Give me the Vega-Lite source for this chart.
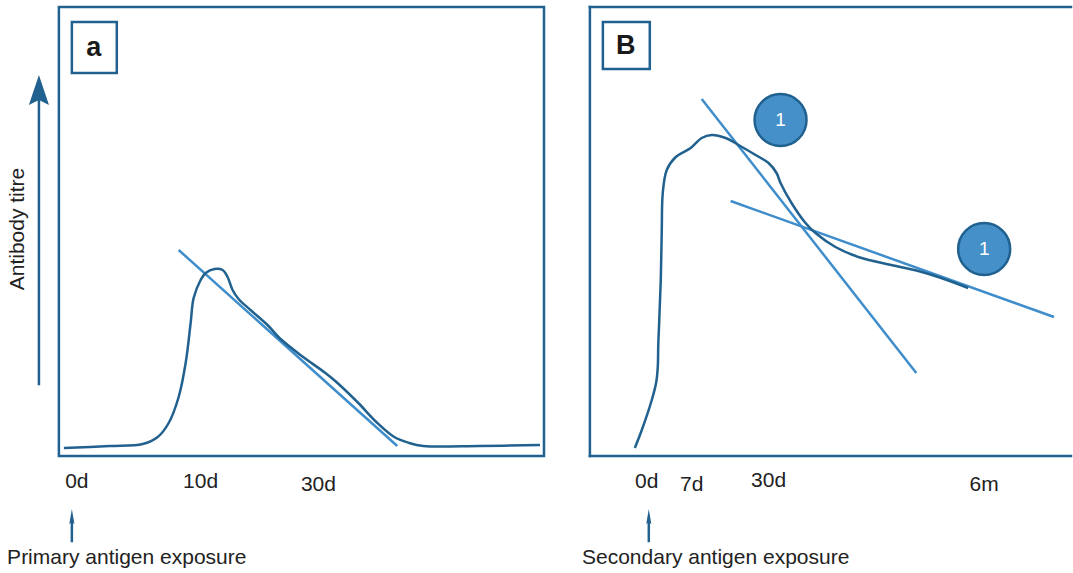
{
  "$schema": "https://vega.github.io/schema/vega-lite/v6.json",
  "width": 1073,
  "height": 573,
  "padding": 0,
  "autosize": {"type": "fit", "contains": "padding"},
  "background": "white",
  "config": {"view": {"stroke": null}},
  "datasets": {
    "curves": [
      {"s": "a", "o": 1, "x": 64, "y": 448},
      {"s": "a", "o": 2, "x": 110, "y": 446},
      {"s": "a", "o": 3, "x": 143, "y": 444},
      {"s": "a", "o": 4, "x": 158, "y": 437},
      {"s": "a", "o": 5, "x": 169, "y": 423},
      {"s": "a", "o": 6, "x": 179, "y": 397},
      {"s": "a", "o": 7, "x": 186, "y": 363},
      {"s": "a", "o": 8, "x": 191, "y": 323},
      {"s": "a", "o": 9, "x": 194, "y": 298},
      {"s": "a", "o": 10, "x": 201, "y": 280},
      {"s": "a", "o": 11, "x": 206, "y": 273},
      {"s": "a", "o": 12, "x": 215, "y": 269},
      {"s": "a", "o": 13, "x": 223, "y": 270},
      {"s": "a", "o": 14, "x": 228, "y": 277},
      {"s": "a", "o": 15, "x": 233, "y": 290},
      {"s": "a", "o": 16, "x": 239, "y": 299},
      {"s": "a", "o": 17, "x": 251, "y": 310},
      {"s": "a", "o": 18, "x": 269, "y": 326},
      {"s": "a", "o": 19, "x": 280, "y": 338},
      {"s": "a", "o": 20, "x": 301, "y": 355},
      {"s": "a", "o": 21, "x": 326, "y": 373},
      {"s": "a", "o": 22, "x": 337, "y": 382},
      {"s": "a", "o": 23, "x": 359, "y": 403},
      {"s": "a", "o": 24, "x": 377, "y": 422},
      {"s": "a", "o": 25, "x": 395, "y": 437},
      {"s": "a", "o": 26, "x": 410, "y": 443},
      {"s": "a", "o": 27, "x": 424, "y": 446},
      {"s": "a", "o": 28, "x": 480, "y": 446},
      {"s": "a", "o": 29, "x": 541, "y": 445},
      {"s": "b", "o": 1, "x": 636, "y": 448},
      {"s": "b", "o": 2, "x": 643, "y": 430},
      {"s": "b", "o": 3, "x": 653, "y": 400},
      {"s": "b", "o": 4, "x": 657.5, "y": 382},
      {"s": "b", "o": 5, "x": 659, "y": 367},
      {"s": "b", "o": 6, "x": 659.5, "y": 345},
      {"s": "b", "o": 7, "x": 660.5, "y": 320},
      {"s": "b", "o": 8, "x": 662, "y": 280},
      {"s": "b", "o": 9, "x": 663, "y": 230},
      {"s": "b", "o": 10, "x": 664, "y": 193},
      {"s": "b", "o": 11, "x": 668, "y": 170},
      {"s": "b", "o": 12, "x": 677, "y": 157},
      {"s": "b", "o": 13, "x": 692, "y": 148},
      {"s": "b", "o": 14, "x": 703, "y": 138},
      {"s": "b", "o": 15, "x": 713, "y": 135},
      {"s": "b", "o": 16, "x": 727, "y": 138},
      {"s": "b", "o": 17, "x": 740, "y": 145},
      {"s": "b", "o": 18, "x": 757, "y": 155},
      {"s": "b", "o": 19, "x": 770, "y": 163},
      {"s": "b", "o": 20, "x": 778, "y": 173},
      {"s": "b", "o": 21, "x": 782, "y": 183},
      {"s": "b", "o": 22, "x": 793, "y": 203},
      {"s": "b", "o": 23, "x": 807, "y": 223},
      {"s": "b", "o": 24, "x": 817, "y": 233},
      {"s": "b", "o": 25, "x": 837, "y": 247},
      {"s": "b", "o": 26, "x": 860, "y": 257},
      {"s": "b", "o": 27, "x": 893, "y": 265},
      {"s": "b", "o": 28, "x": 920, "y": 271},
      {"s": "b", "o": 29, "x": 943, "y": 278},
      {"s": "b", "o": 30, "x": 970, "y": 288}
    ],
    "tangents": [
      {"s": "a", "o": 1, "x": 179, "y": 250},
      {"s": "a", "o": 2, "x": 398, "y": 446},
      {"s": "b1", "o": 1, "x": 703, "y": 99},
      {"s": "b1", "o": 2, "x": 918, "y": 373},
      {"s": "b2", "o": 1, "x": 732, "y": 201},
      {"s": "b2", "o": 2, "x": 1056, "y": 317}
    ],
    "boxes": [
      {"x": 59, "x2": 545, "y": 7, "y2": 456},
      {"x": 72, "x2": 117, "y": 22, "y2": 73},
      {"x": 604, "x2": 651, "y": 22, "y2": 69}
    ],
    "rules": [
      {"x": 591, "x2": 591, "y": 7, "y2": 456},
      {"x": 591, "x2": 1073, "y": 7, "y2": 7},
      {"x": 591, "x2": 1073, "y": 456, "y2": 456},
      {"x": 39, "x2": 39, "y": 100, "y2": 384},
      {"x": 72, "x2": 72, "y": 520, "y2": 541},
      {"x": 650, "x2": 650, "y": 520, "y2": 541}
    ],
    "bighead": [{"x": 39, "y": 90}],
    "smallheads": [{"x": 72, "y": 516.5}, {"x": 650, "y": 516.5}],
    "labels": [
      {"x": 77, "y": 482, "t": "0d"},
      {"x": 201, "y": 482, "t": "10d"},
      {"x": 319, "y": 485, "t": "30d"},
      {"x": 648, "y": 482, "t": "0d"},
      {"x": 693, "y": 485, "t": "7d"},
      {"x": 770, "y": 481, "t": "30d"},
      {"x": 986, "y": 485, "t": "6m"},
      {"x": 127, "y": 558, "t": "Primary antigen exposure"},
      {"x": 717, "y": 558, "t": "Secondary antigen exposure"}
    ],
    "panels": [
      {"x": 94, "y": 48, "t": "a"},
      {"x": 627, "y": 46, "t": "B"}
    ],
    "ytitle": [{"x": 18, "y": 229, "t": "Antibody titre"}],
    "circles": [
      {"x": 782, "y": 120, "t": "1"},
      {"x": 986, "y": 249, "t": "1"}
    ]
  },
  "encoding": {
    "x": {"field": "x", "type": "quantitative", "scale": {"domain": [0, 1073], "nice": false, "zero": false}, "axis": null},
    "y": {"field": "y", "type": "quantitative", "scale": {"domain": [0, 573], "nice": false, "zero": false, "reverse": true}, "axis": null}
  },
  "layer": [
    {
      "data": {"name": "boxes"},
      "mark": {"type": "rect", "fillOpacity": 0, "stroke": "#21618f", "strokeWidth": 2.5},
      "encoding": {"x2": {"field": "x2"}, "y2": {"field": "y2"}}
    },
    {
      "data": {"name": "rules"},
      "mark": {"type": "rule", "stroke": "#21618f", "strokeWidth": 2.5, "strokeCap": "square"},
      "encoding": {"x2": {"field": "x2"}, "y2": {"field": "y2"}}
    },
    {
      "data": {"name": "bighead"},
      "mark": {"type": "point", "shape": "M0,-1L0.67,1L0,0.67L-0.67,1Z", "size": 900, "filled": true, "fill": "#21618f", "opacity": 1, "strokeWidth": 0}
    },
    {
      "data": {"name": "smallheads"},
      "mark": {"type": "point", "shape": "M0,-1L0.34,1L0,0.75L-0.34,1Z", "size": 225, "filled": true, "fill": "#21618f", "opacity": 1, "strokeWidth": 0}
    },
    {
      "data": {"name": "tangents"},
      "mark": {"type": "line", "stroke": "#3f8dcb", "strokeWidth": 2.5},
      "encoding": {"detail": {"field": "s"}, "order": {"field": "o", "type": "quantitative"}}
    },
    {
      "data": {"name": "curves"},
      "mark": {"type": "line", "stroke": "#21618f", "strokeWidth": 2.5, "interpolate": "catmull-rom"},
      "encoding": {"detail": {"field": "s"}, "order": {"field": "o", "type": "quantitative"}}
    },
    {
      "data": {"name": "circles"},
      "mark": {"type": "point", "shape": "circle", "size": 2700, "filled": true, "fill": "#4690c9", "stroke": "#21618f", "strokeWidth": 2.5, "opacity": 1}
    },
    {
      "data": {"name": "circles"},
      "mark": {"type": "text", "font": "Liberation Sans", "fontSize": 19, "color": "white", "align": "center", "baseline": "middle"},
      "encoding": {"text": {"field": "t"}}
    },
    {
      "data": {"name": "labels"},
      "mark": {"type": "text", "font": "Liberation Sans", "fontSize": 21, "color": "#222222", "align": "center", "baseline": "middle"},
      "encoding": {"text": {"field": "t"}}
    },
    {
      "data": {"name": "panels"},
      "mark": {"type": "text", "font": "Liberation Sans", "fontSize": 27, "fontWeight": "bold", "color": "#1a1a1a", "align": "center", "baseline": "middle"},
      "encoding": {"text": {"field": "t"}}
    },
    {
      "data": {"name": "ytitle"},
      "mark": {"type": "text", "font": "Liberation Sans", "fontSize": 21, "color": "#222222", "align": "center", "baseline": "middle", "angle": 270},
      "encoding": {"text": {"field": "t"}}
    }
  ]
}
